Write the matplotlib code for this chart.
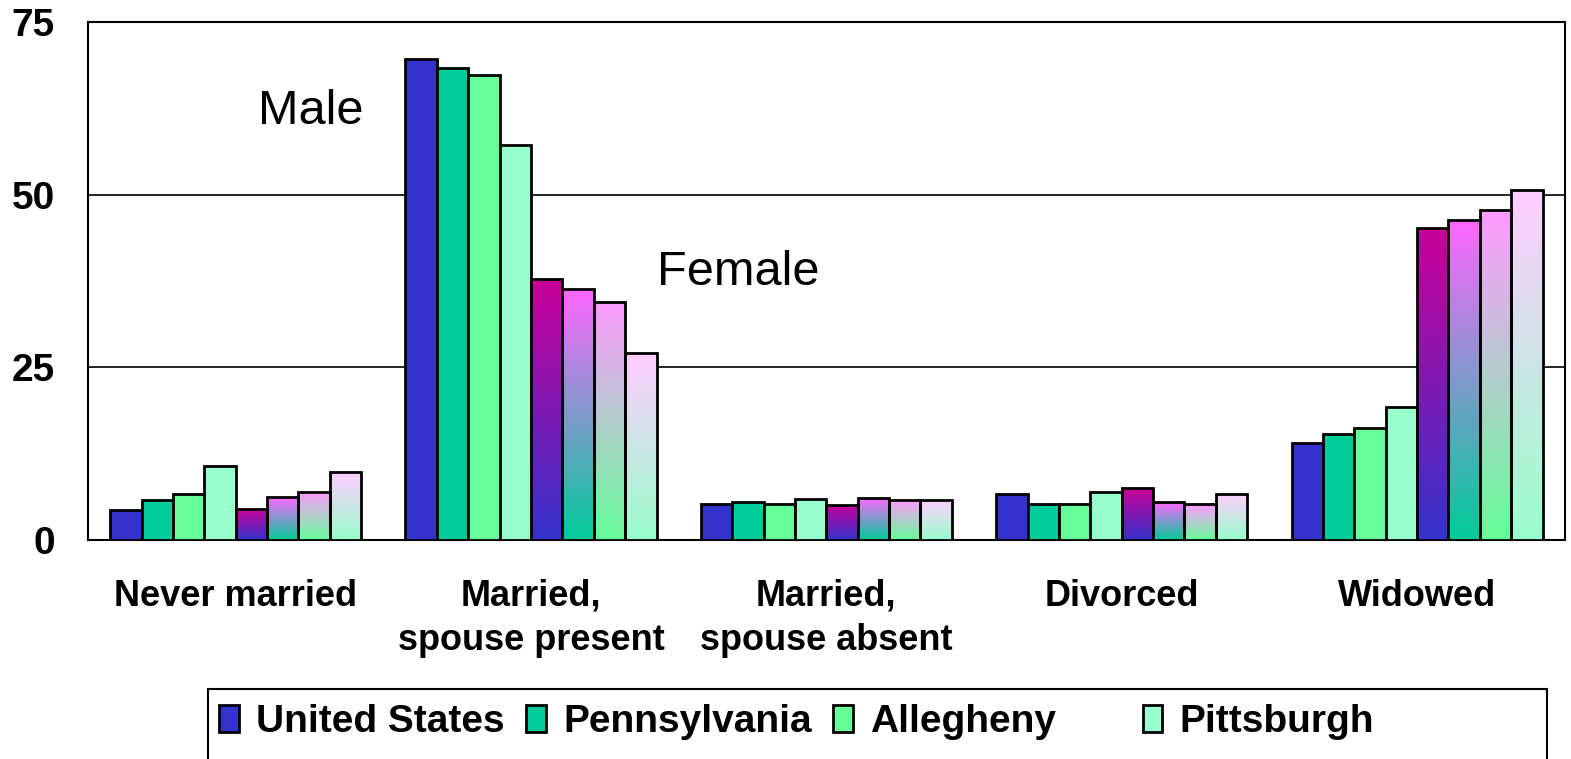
import numpy as np
import matplotlib.pyplot as plt
from matplotlib.colors import LinearSegmentedColormap
from matplotlib.patches import Rectangle

plt.rcParams['font.family'] = ['Liberation Sans', 'DejaVu Sans']

categories = ['Never married', 'Married,\nspouse present', 'Married,\nspouse absent', 'Divorced', 'Widowed']
areas = ['United States', 'Pennsylvania', 'Allegheny', 'Pittsburgh']

male = {
    'United States': [4.4, 69.7, 5.2, 6.7, 14.1],
    'Pennsylvania': [5.8, 68.4, 5.5, 5.2, 15.4],
    'Allegheny': [6.7, 67.4, 5.2, 5.2, 16.2],
    'Pittsburgh': [10.7, 57.2, 5.9, 7.0, 19.3],
}
female = {
    'United States': [4.5, 37.8, 5.1, 7.5, 45.2],
    'Pennsylvania': [6.2, 36.4, 6.1, 5.5, 46.4],
    'Allegheny': [7.0, 34.5, 5.8, 5.2, 47.8],
    'Pittsburgh': [9.9, 27.1, 5.8, 6.7, 50.7],
}

male_colors = ['#3333CC', '#00CC99', '#66FF99', '#99FFCC']
female_top = ['#CC0099', '#FF66FF', '#FF99FF', '#FFCCFF']

fig = plt.figure(figsize=(15.71, 7.59), dpi=100)
ax = fig.add_axes([0.056, 0.2885, 0.94, 0.6825])

x = np.arange(len(categories))
w = 0.85 / 8
start = x + 0.5 - 0.425

handles = []
for i, a in enumerate(areas):
    pos = start + i * w
    b = ax.bar(pos, male[a], width=w, align='edge', color=male_colors[i],
               edgecolor='black', linewidth=2, zorder=3, label=a)
    handles.append(b)

# female bars: vertical gradient from the area colour up to pink
grad = np.linspace(0, 1, 256).reshape(-1, 1)
for i, a in enumerate(areas):
    cmap = LinearSegmentedColormap.from_list('g%d' % i, [male_colors[i], female_top[i]])
    pos = start + (4 + i) * w
    for p, h in zip(pos, female[a]):
        im = ax.imshow(grad, cmap=cmap, origin='lower', aspect='auto',
                       extent=(p, p + w, 0, h), zorder=3)
        r = Rectangle((p, 0), w, h, facecolor='none', edgecolor='black',
                      linewidth=2, zorder=4)
        ax.add_patch(r)
        im.set_clip_path(r)

ax.set_xlim(0, 5)
ax.set_ylim(0, 75)
ax.set_yticks([0, 25, 50, 75])
ax.yaxis.grid(True, color='black', linewidth=1.2, zorder=0)
ax.set_axisbelow(True)
ax.set_xticks(x + 0.5)
ax.set_xticklabels(categories, fontsize=26, fontweight='bold', linespacing=1.35)
ax.tick_params(axis='x', length=0, pad=28)
ax.tick_params(axis='y', length=0, pad=24, labelsize=28)
for t in ax.get_yticklabels():
    t.set_fontweight('bold')
for s in ax.spines.values():
    s.set_linewidth(1.5)
    s.set_color('black')

ax.text(0.575, 62, 'Male', fontsize=35, va='center', ha='left')
ax.text(1.925, 38.8, 'Female', fontsize=35, va='center', ha='left')

# legend: frame drawn separately, Pittsburgh sits apart from the others
legkw = dict(loc='center left', frameon=False, prop={'size': 28, 'weight': 'bold'},
             handlelength=0.5, handleheight=0.7, handletextpad=0.45,
             columnspacing=0.55, borderaxespad=0, borderpad=0)
leg1 = fig.legend(handles[:3], areas[:3], ncol=3, bbox_to_anchor=(0.1395, 0.049), **legkw)
leg2 = fig.legend(handles[3:], areas[3:], ncol=1, bbox_to_anchor=(0.7275, 0.049), **legkw)
fig.add_artist(Rectangle((0.1325, -0.05), 0.852, 0.1423, transform=fig.transFigure,
                         facecolor='none', edgecolor='black', linewidth=1.5))

fig.savefig('out.png', dpi=100)
